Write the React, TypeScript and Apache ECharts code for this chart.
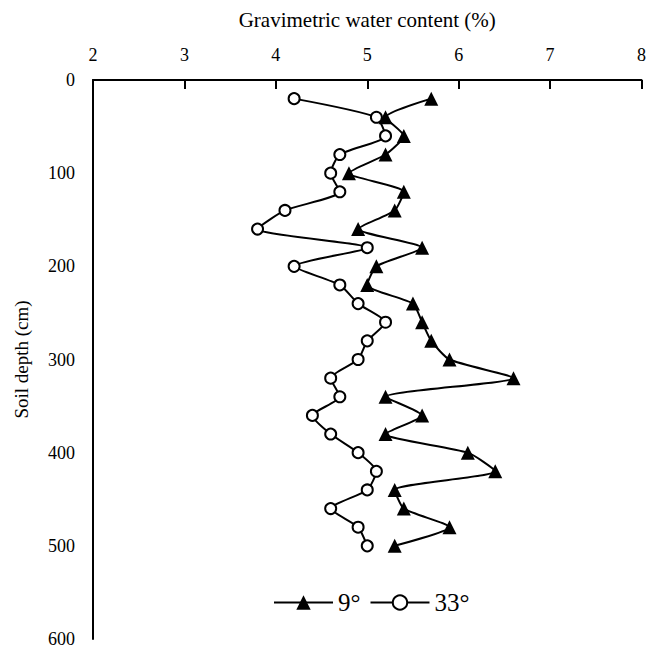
import React, { useEffect, useRef } from "react";
import * as echarts from "echarts";

const depths = [20, 40, 60, 80, 100, 120, 140, 160, 180, 200, 220, 240, 260, 280, 300, 320, 340, 360, 380, 400, 420, 440, 460, 480, 500];
const water9 = [5.7, 5.2, 5.4, 5.2, 4.8, 5.4, 5.3, 4.9, 5.6, 5.1, 5.0, 5.5, 5.6, 5.7, 5.9, 6.6, 5.2, 5.6, 5.2, 6.1, 6.4, 5.3, 5.4, 5.9, 5.3];
const water33 = [4.2, 5.1, 5.2, 4.7, 4.6, 4.7, 4.1, 3.8, 5.0, 4.2, 4.7, 4.9, 5.2, 5.0, 4.9, 4.6, 4.7, 4.4, 4.6, 4.9, 5.1, 5.0, 4.6, 4.9, 5.0];
const seriesNames = ["9°", "33°"];
const xTitle = "Gravimetric water content (%)";
const yTitle = "Soil depth (cm)";

const FONT = "serif";

export default function App() {
  const ref = useRef<HTMLDivElement>(null);
  useEffect(() => {
    if (!ref.current) return;
    const chart = echarts.init(ref.current, null, { renderer: "svg" });
    chart.setOption({
      animation: false,
      backgroundColor: "#ffffff",
      textStyle: { fontFamily: FONT, color: "#000" },
      grid: { left: 93, right: 7, top: 80, bottom: 8, containLabel: false },
      legend: {
        data: seriesNames,
        left: 273,
        top: 590,
        padding: 0,
        itemWidth: 59,
        itemHeight: 18,
        itemGap: 9,
        textStyle: { fontFamily: FONT, fontSize: 25, color: "#000" },
      },
      xAxis: {
        type: "value",
        position: "top",
        min: 2,
        max: 8,
        interval: 1,
        name: xTitle,
        nameLocation: "middle",
        nameGap: 50,
        nameTextStyle: { fontFamily: FONT, fontSize: 21, color: "#000" },
        axisLine: { show: true, lineStyle: { color: "#000", width: 2 } },
        axisTick: { show: true, inside: true, length: 9, lineStyle: { color: "#000", width: 2 } },
        axisLabel: { fontFamily: FONT, fontSize: 18, color: "#000", margin: 16 },
        splitLine: { show: false },
      },
      yAxis: {
        type: "value",
        inverse: true,
        min: 0,
        max: 600,
        interval: 100,
        name: yTitle,
        nameLocation: "middle",
        nameGap: 62,
        nameTextStyle: { fontFamily: FONT, fontSize: 19, color: "#000" },
        axisLine: { show: true, lineStyle: { color: "#000", width: 2 } },
        axisTick: { show: false },
        axisLabel: { fontFamily: FONT, fontSize: 18, color: "#000", margin: 18 },
        splitLine: { show: false },
      },
      series: [
        {
          name: seriesNames[0],
          type: "line",
          data: water9.map((v, i) => [v, depths[i]]),
          symbol: "triangle",
          symbolSize: 14,
          smooth: 0.2,
          itemStyle: { color: "#000" },
          lineStyle: { color: "#000", width: 2 },
        },
        {
          name: seriesNames[1],
          type: "line",
          data: water33.map((v, i) => [v, depths[i]]),
          symbol: "circle",
          symbolSize: 11,
          smooth: 0.2,
          itemStyle: { color: "#fff", borderColor: "#000", borderWidth: 2 },
          lineStyle: { color: "#000", width: 2 },
        },
      ],
    });
    return () => chart.dispose();
  }, []);
  return (
    <div
      ref={ref}
      style={{ position: "fixed", left: 0, top: 0, width: 649, height: 648, background: "#fff" }}
    />
  );
}
